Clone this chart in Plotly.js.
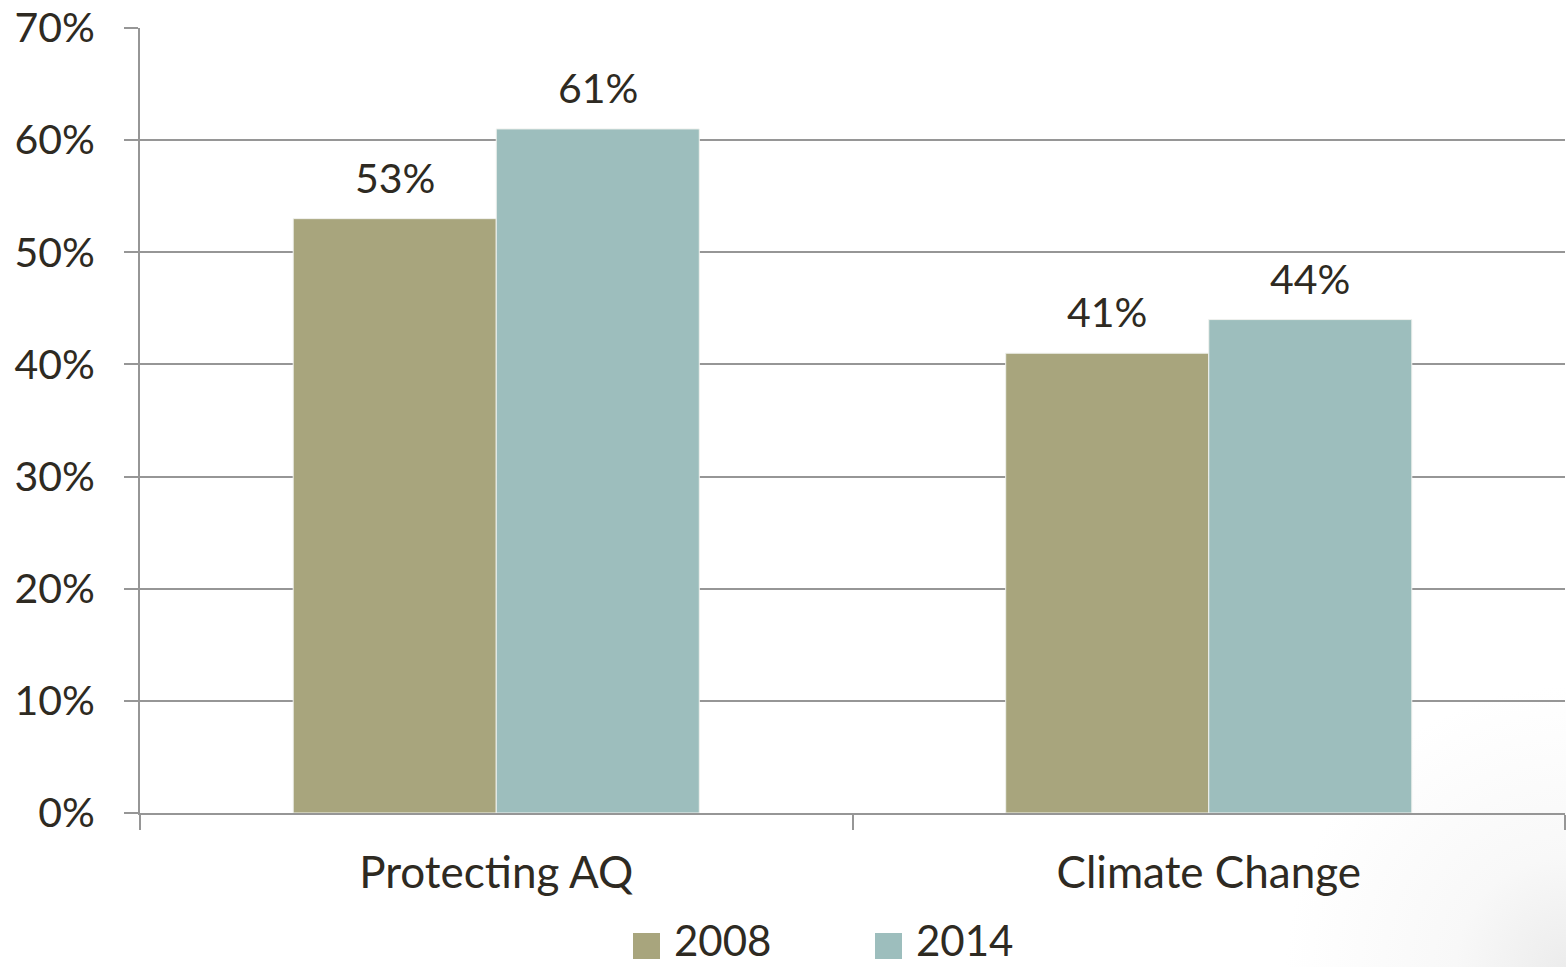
<!DOCTYPE html>
<html>
<head>
<meta charset="utf-8">
<script src="https://cdn.plot.ly/plotly-3.0.1.min.js"></script>
<style>
html,body{margin:0;padding:0;background:#fff;}
#chart{width:1566px;height:967px;background:radial-gradient(circle at 100% 100%, #ececec 0px, #f8f8f8 110px, #ffffff 280px);}
</style>
</head>
<body>
<div id="chart"></div>
<script>
const categories = ["Protecting AQ", "Climate Change"];
const series2008 = [53, 41];
const series2014 = [61, 44];
const seriesNames = ["2008", "2014"];
const seriesColors = ["#a8a57d", "#9dbebd"];
const yTickVals = [0, 10, 20, 30, 40, 50, 60, 70];
const yTickText = ["0%", "10%", "20%", "30%", "40%", "50%", "60%", "70%"];

const FONT = "Lato, 'Open Sans', sans-serif";
const TXT = "#2e2a22";
const GRID = "#969696";
const BARGAP = 0.43;

const allSeries = [series2008, series2014];
const traces = allSeries.map((vals, i) => ({
  type: "bar", name: seriesNames[i], x: categories, y: vals,
  marker: {color: seriesColors[i], line: {color: "#f0f2ee", width: 1}},
  hoverinfo: "skip", showlegend: false
}));

// data labels, placed through the axes
const half = (1 - BARGAP) / 4;
const annotations = [];
allSeries.forEach((vals, i) => {
  vals.forEach((v, c) => {
    annotations.push({xref: "x", yref: "y", x: c + (i === 0 ? -half : half), y: v,
      text: v + "%", showarrow: false, yanchor: "bottom", yshift: 15,
      font: {family: FONT, size: 41, color: TXT}});
  });
});

// legend drawn as swatches + labels in paper coordinates
const legX = [633, 875];
const shapes = [];
seriesNames.forEach((n, i) => {
  shapes.push({type: "rect", xref: "paper", yref: "paper",
    x0: (legX[i] - 140) / 1425, x1: (legX[i] + 27 - 140) / 1425,
    y0: -(933 - 813) / 785, y1: -(959 - 813) / 785,
    fillcolor: seriesColors[i], line: {width: 0}});
  annotations.push({xref: "paper", yref: "paper", x: (legX[i] + 40 - 140) / 1425,
    y: -(966 - 813) / 785, xanchor: "left", yanchor: "bottom", showarrow: false,
    borderpad: 0,
    text: n, font: {family: FONT, size: 42, color: TXT}});
});

const layout = {
  width: 1566, height: 967,
  margin: {l: 140, r: 1, t: 28, b: 154, autoexpand: false},
  paper_bgcolor: "rgba(0,0,0,0)", plot_bgcolor: "rgba(0,0,0,0)",
  font: {family: FONT, size: 40, color: TXT},
  barmode: "group", bargap: BARGAP, bargroupgap: 0,
  showlegend: false,
  annotations: annotations, shapes: shapes,
  xaxis: {type: "category", showline: true, linecolor: GRID, linewidth: 2,
          ticks: "outside", tickson: "boundaries", ticklen: 15, tickwidth: 2, tickcolor: GRID,
          tickfont: {family: FONT, size: 44, color: TXT}, ticklabelstandoff: 20,
          showgrid: false, zeroline: false},
  yaxis: {range: [0, 70], tickvals: yTickVals, ticktext: yTickText,
          showline: true, linecolor: GRID, linewidth: 2,
          ticks: "outside", ticklen: 14, tickwidth: 2, tickcolor: GRID,
          showgrid: true, gridcolor: GRID, gridwidth: 2, zeroline: false,
          tickfont: {family: FONT, size: 41, color: TXT}, ticklabelstandoff: 21}
};

Plotly.newPlot("chart", traces, layout, {displayModeBar: false, staticPlot: true});
</script>
</body>
</html>
